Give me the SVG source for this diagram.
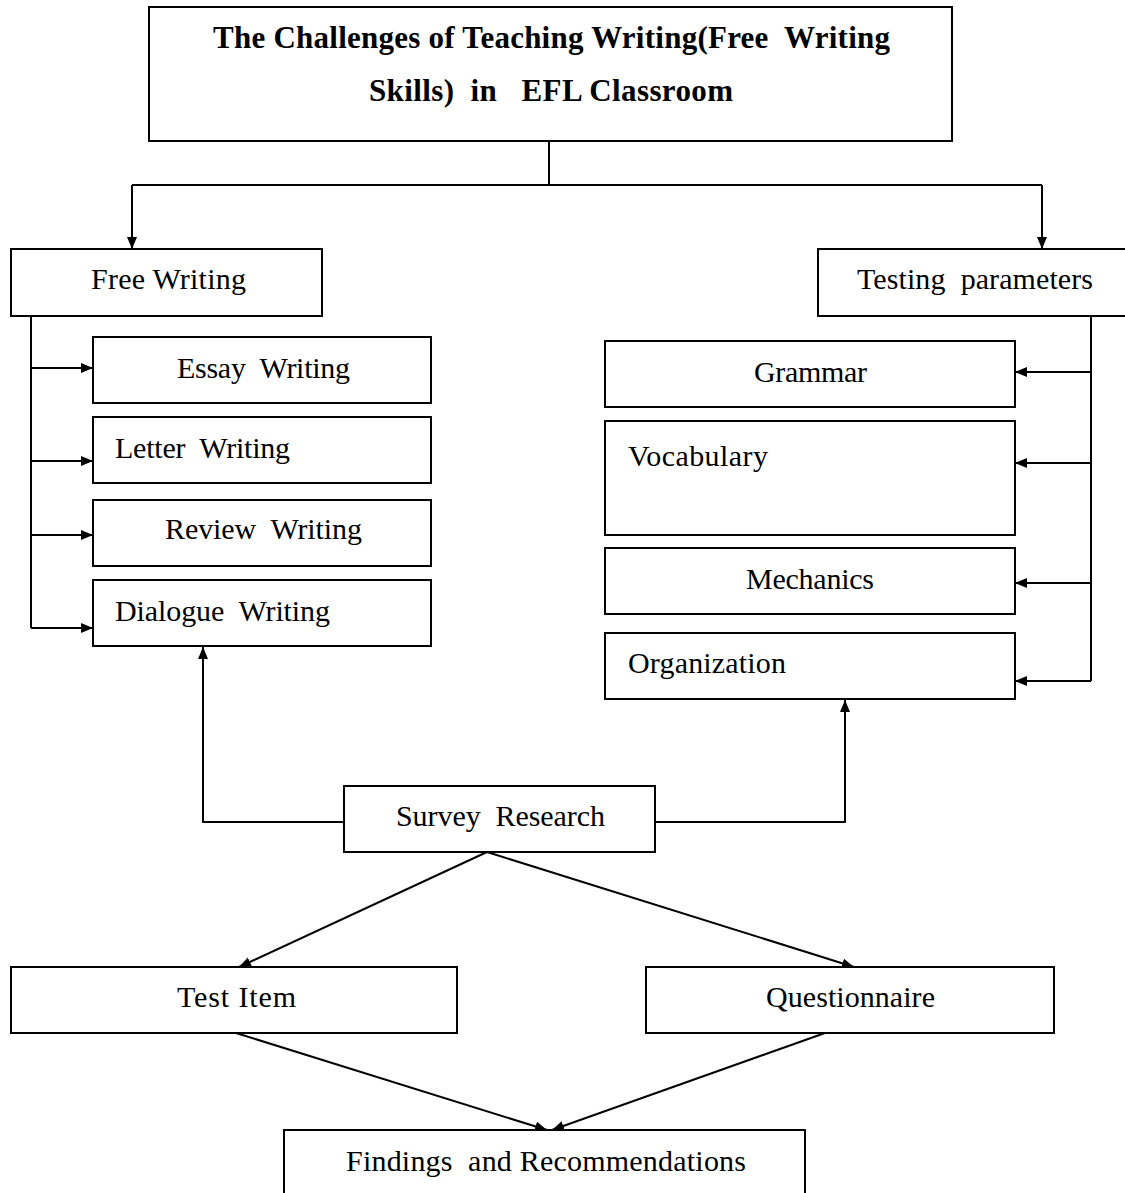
<svg xmlns="http://www.w3.org/2000/svg" width="1125" height="1193" viewBox="0 0 1125 1193">
<style>
  rect.box { fill: #fff; stroke: #000; stroke-width: 2; }
  text { font-family: "Liberation Serif", "Times New Roman", serif; font-size: 30px; fill: #000; white-space: pre; }
  text.title { font-weight: bold; font-size: 31px; }
  .conn path, .conn line, .conn polyline { fill: none; stroke: #000; stroke-width: 2; }
</style>
<defs>
  <marker id="arr" markerUnits="userSpaceOnUse" markerWidth="12" markerHeight="12" viewBox="0 0 12 12" refX="12" refY="6" orient="auto">
    <path d="M0,1 L12,6 L0,11 z" fill="#000"/>
  </marker>
</defs>
<rect width="1125" height="1193" fill="#fff"/>

<g class="conn" id="connectors">
  <polyline points="549,141 549,185"/>
  <polyline points="132,185 1042,185"/>
  <line x1="132" y1="185" x2="132" y2="249" marker-end="url(#arr)"/>
  <line x1="1042" y1="185" x2="1042" y2="249" marker-end="url(#arr)"/>
  <polyline points="31,316 31,628"/>
  <line x1="31" y1="368" x2="93" y2="368" marker-end="url(#arr)"/>
  <line x1="31" y1="461" x2="93" y2="461" marker-end="url(#arr)"/>
  <line x1="31" y1="535" x2="93" y2="535" marker-end="url(#arr)"/>
  <line x1="31" y1="628" x2="93" y2="628" marker-end="url(#arr)"/>
  <polyline points="1091,316 1091,681"/>
  <line x1="1091" y1="372" x2="1015" y2="372" marker-end="url(#arr)"/>
  <line x1="1091" y1="463" x2="1015" y2="463" marker-end="url(#arr)"/>
  <line x1="1091" y1="583" x2="1015" y2="583" marker-end="url(#arr)"/>
  <line x1="1091" y1="681" x2="1015" y2="681" marker-end="url(#arr)"/>
  <polyline points="344,822 203,822 203,647" marker-end="url(#arr)"/>
  <polyline points="655,822 845,822 845,700" marker-end="url(#arr)"/>
  <line x1="487" y1="852" x2="239" y2="967" marker-end="url(#arr)"/>
  <line x1="487" y1="852" x2="854" y2="967" marker-end="url(#arr)"/>
  <line x1="236" y1="1033" x2="547" y2="1130" marker-end="url(#arr)"/>
  <line x1="825" y1="1033" x2="552" y2="1130" marker-end="url(#arr)"/>
</g>

<g id="title">
  <rect class="box" x="149" y="7" width="803" height="134"/>
  <text class="title" x="213" y="48" textLength="677" lengthAdjust="spacing">The Challenges of Teaching Writing(Free  Writing</text>
  <text class="title" x="369" y="101" textLength="364" lengthAdjust="spacing">Skills)  in   EFL Classroom</text>
</g>
<g id="free-writing">
  <rect class="box" x="11" y="249" width="311" height="67"/>
  <text x="91" y="289" textLength="155" lengthAdjust="spacing">Free Writing</text>
</g>
<g id="testing-parameters">
  <rect class="box" x="818" y="249" width="320" height="67"/>
  <text x="857" y="289" textLength="236" lengthAdjust="spacing">Testing  parameters</text>
</g>
<g id="essay-writing">
  <rect class="box" x="93" y="337" width="338" height="66"/>
  <text x="177" y="378" textLength="173" lengthAdjust="spacing">Essay  Writing</text>
</g>
<g id="letter-writing">
  <rect class="box" x="93" y="417" width="338" height="66"/>
  <text x="115" y="458" textLength="175" lengthAdjust="spacing">Letter  Writing</text>
</g>
<g id="review-writing">
  <rect class="box" x="93" y="500" width="338" height="66"/>
  <text x="165" y="539" textLength="197" lengthAdjust="spacing">Review  Writing</text>
</g>
<g id="dialogue-writing">
  <rect class="box" x="93" y="580" width="338" height="66"/>
  <text x="115" y="621" textLength="215" lengthAdjust="spacing">Dialogue  Writing</text>
</g>
<g id="grammar">
  <rect class="box" x="605" y="341" width="410" height="66"/>
  <text x="754" y="382" textLength="113" lengthAdjust="spacing">Grammar</text>
</g>
<g id="vocabulary">
  <rect class="box" x="605" y="421" width="410" height="114"/>
  <text x="628" y="466" textLength="140" lengthAdjust="spacing">Vocabulary</text>
</g>
<g id="mechanics">
  <rect class="box" x="605" y="548" width="410" height="66"/>
  <text x="746" y="589" textLength="128" lengthAdjust="spacing">Mechanics</text>
</g>
<g id="organization">
  <rect class="box" x="605" y="633" width="410" height="66"/>
  <text x="628" y="673" textLength="158" lengthAdjust="spacing">Organization</text>
</g>
<g id="survey-research">
  <rect class="box" x="344" y="786" width="311" height="66"/>
  <text x="396" y="826" textLength="209" lengthAdjust="spacing">Survey  Research</text>
</g>
<g id="test-item">
  <rect class="box" x="11" y="967" width="446" height="66"/>
  <text x="177" y="1007" textLength="119" lengthAdjust="spacing">Test Item</text>
</g>
<g id="questionnaire">
  <rect class="box" x="646" y="967" width="408" height="66"/>
  <text x="766" y="1007" textLength="169" lengthAdjust="spacing">Questionnaire</text>
</g>
<g id="findings">
  <rect class="box" x="284" y="1130" width="521" height="80"/>
  <text x="346" y="1171" textLength="400" lengthAdjust="spacing">Findings  and Recommendations</text>
</g>
</svg>
